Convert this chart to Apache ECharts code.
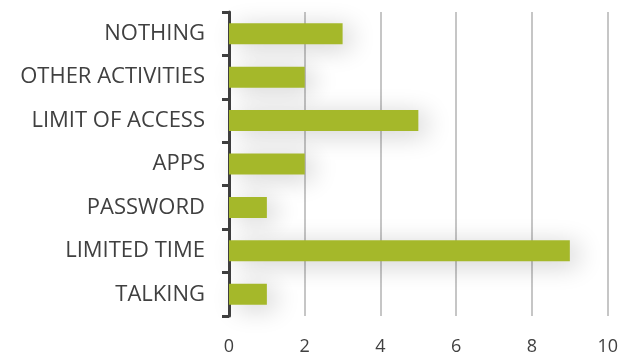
<!DOCTYPE html>
<html>
<head>
<meta charset="utf-8">
<script src="https://cdn.jsdelivr.net/npm/echarts@6/dist/echarts.min.js"></script>
<style>
    html, body { margin: 0; padding: 0; background: #fff; }
    #chart { width: 621px; height: 362px; }
</style>
</head>
<body>
<div id="chart"></div>
<script>
const categories = ['NOTHING', 'OTHER ACTIVITIES', 'LIMIT OF ACCESS', 'APPS', 'PASSWORD', 'LIMITED TIME', 'TALKING'];
const values = [3, 2, 5, 2, 1, 9, 1];
const xTicks = [0, 2, 4, 6, 8, 10];

const chart = echarts.init(document.getElementById('chart'));

chart.setOption({
    animation: false,
    grid: {
        left: 229,
        right: 12,
        top: 12,
        bottom: 46
    },
    xAxis: {
        type: 'value',
        min: xTicks[0],
        max: xTicks[xTicks.length - 1],
        interval: 2,
        axisLine: { show: false },
        axisTick: { show: false },
        axisLabel: {
            margin: 22,
            color: '#404040',
            fontSize: 18,
            fontFamily: 'Open Sans'
        },
        splitLine: {
            lineStyle: { color: '#b3b3b3', width: 1.5 }
        }
    },
    yAxis: {
        type: 'category',
        inverse: true,
        data: categories,
        axisLine: {
            lineStyle: { color: '#404040', width: 3 }
        },
        axisTick: {
            show: true,
            length: 7,
            lineStyle: { color: '#404040', width: 3 }
        },
        axisLabel: {
            margin: 24,
            color: '#404040',
            fontSize: 22,
            fontFamily: 'Open Sans'
        },
        splitLine: { show: false }
    },
    series: [{
        type: 'bar',
        data: values,
        barWidth: 21,
        itemStyle: {
            color: '#a5b82a',
            shadowColor: 'rgba(0, 0, 0, 0.2)',
            shadowBlur: 26,
            shadowOffsetX: 8,
            shadowOffsetY: 4
        }
    }]
});
</script>
</body>
</html>
